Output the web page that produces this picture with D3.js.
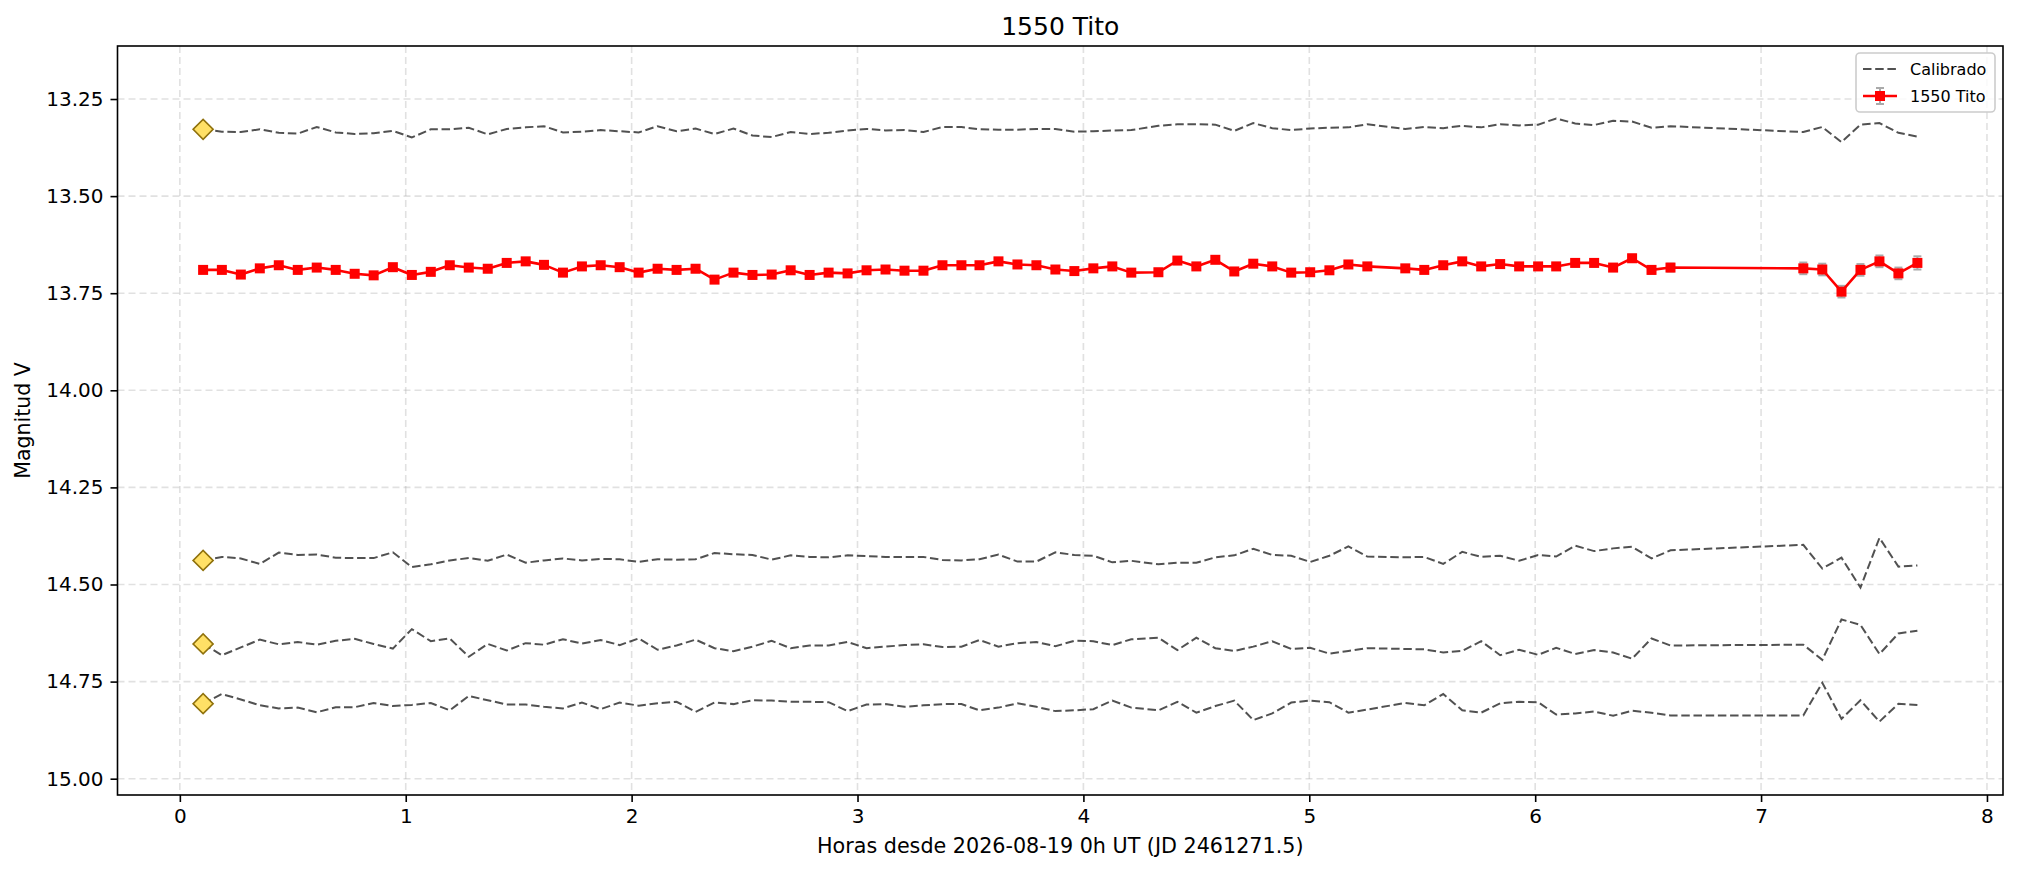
<!DOCTYPE html>
<html>
<head>
<meta charset="utf-8">
<script src="https://cdn.jsdelivr.net/npm/d3@7"></script>
<style>
  html, body { margin: 0; padding: 0; background: #fff; }
  svg { display: block; font-family: "DejaVu Sans", sans-serif; }
</style>
</head>
<body>
<svg id="chart" width="2018" height="873"></svg>
<script>
// ---------------- DATA ----------------
const title = "1550 Tito";
const xLabel = "Horas desde 2026-08-19 0h UT (JD 2461271.5)";
const yLabel = "Magnitud V";
const xTicks = [0, 1, 2, 3, 4, 5, 6, 7, 8];
const yTicks = [13.25, 13.50, 13.75, 14.00, 14.25, 14.50, 14.75, 15.00];
const legendLabels = ["Calibrado", "1550 Tito"];

const hours = [
  0.103, 0.186, 0.270, 0.354, 0.438, 0.522, 0.606, 0.690, 0.774, 0.858,
  0.943, 1.027, 1.111, 1.195, 1.279, 1.363, 1.447, 1.531, 1.612, 1.696,
  1.780, 1.863, 1.947, 2.031, 2.115, 2.199, 2.283, 2.367, 2.451, 2.535,
  2.620, 2.704, 2.788, 2.872, 2.956, 3.040, 3.124, 3.208, 3.292, 3.376,
  3.460, 3.540, 3.624, 3.708, 3.792, 3.876, 3.960, 4.044, 4.128, 4.212,
  4.332, 4.416, 4.500, 4.584, 4.668, 4.752, 4.836, 4.920, 5.004, 5.089,
  5.173, 5.257, 5.425, 5.509, 5.593, 5.677, 5.761, 5.845, 5.929, 6.013,
  6.093, 6.177, 6.261, 6.345, 6.429, 6.515, 6.599, 7.187, 7.271, 7.356,
  7.440, 7.524, 7.608, 7.692
];

const titoMag = [
  13.690, 13.690, 13.702, 13.686, 13.678, 13.690, 13.684, 13.690, 13.700, 13.704,
  13.683, 13.703, 13.695, 13.678, 13.684, 13.687, 13.672, 13.668, 13.677, 13.697,
  13.681, 13.678, 13.683, 13.697, 13.687, 13.690, 13.687, 13.715, 13.697, 13.703,
  13.702, 13.691, 13.703, 13.697, 13.699, 13.691, 13.689, 13.692, 13.692, 13.678,
  13.678, 13.678, 13.668, 13.676, 13.678, 13.689, 13.693, 13.686, 13.681, 13.697,
  13.696, 13.666, 13.681, 13.664, 13.694, 13.674, 13.681, 13.697, 13.696, 13.691,
  13.676, 13.681, 13.686, 13.690, 13.678, 13.668, 13.681, 13.675, 13.681, 13.681,
  13.681, 13.672, 13.672, 13.684, 13.660, 13.690, 13.684, 13.686, 13.689, 13.746,
  13.690, 13.668, 13.699, 13.672
];

const titoErr = [
  0.008, 0.008, 0.008, 0.008, 0.008, 0.008, 0.008, 0.008, 0.008, 0.008,
  0.008, 0.008, 0.008, 0.008, 0.008, 0.008, 0.008, 0.008, 0.008, 0.008,
  0.008, 0.008, 0.008, 0.008, 0.008, 0.008, 0.008, 0.008, 0.008, 0.008,
  0.008, 0.008, 0.008, 0.008, 0.008, 0.008, 0.008, 0.008, 0.008, 0.008,
  0.008, 0.008, 0.008, 0.008, 0.008, 0.008, 0.008, 0.008, 0.008, 0.008,
  0.008, 0.008, 0.008, 0.008, 0.008, 0.008, 0.008, 0.008, 0.008, 0.008,
  0.008, 0.008, 0.008, 0.008, 0.008, 0.008, 0.008, 0.008, 0.008, 0.008,
  0.009, 0.009, 0.009, 0.009, 0.009, 0.010, 0.010, 0.015, 0.015, 0.015,
  0.015, 0.015, 0.015, 0.017
];

const calib1 = [
  13.328, 13.334, 13.335, 13.328, 13.337, 13.339, 13.322, 13.336, 13.340, 13.338,
  13.332, 13.349, 13.328, 13.328, 13.324, 13.341, 13.327, 13.323, 13.320, 13.336,
  13.334, 13.330, 13.333, 13.336, 13.320, 13.333, 13.326, 13.340, 13.326, 13.344,
  13.348, 13.335, 13.340, 13.337, 13.331, 13.327, 13.331, 13.330, 13.335, 13.322,
  13.322, 13.328, 13.329, 13.329, 13.327, 13.327, 13.334, 13.333, 13.331, 13.330,
  13.319, 13.315, 13.315, 13.316, 13.332, 13.312, 13.325, 13.330, 13.326, 13.324,
  13.323, 13.315, 13.327, 13.322, 13.325, 13.319, 13.323, 13.315, 13.318, 13.316,
  13.300, 13.313, 13.317, 13.306, 13.308, 13.324, 13.320, 13.335, 13.322, 13.361,
  13.316, 13.312, 13.337, 13.347
];

const calib2 = [
  14.438, 14.429, 14.433, 14.447, 14.418, 14.424, 14.423, 14.431, 14.432, 14.432,
  14.417, 14.455, 14.448, 14.438, 14.432, 14.439, 14.423, 14.444, 14.438, 14.433,
  14.438, 14.434, 14.435, 14.442, 14.435, 14.436, 14.435, 14.419, 14.422, 14.424,
  14.436, 14.425, 14.429, 14.430, 14.425, 14.427, 14.429, 14.429, 14.429, 14.437,
  14.438, 14.435, 14.423, 14.441, 14.441, 14.417, 14.424, 14.426, 14.443, 14.439,
  14.448, 14.444, 14.444, 14.430, 14.425, 14.408, 14.424, 14.426, 14.442, 14.426,
  14.402, 14.428, 14.430, 14.429, 14.447, 14.416, 14.429, 14.426, 14.439, 14.424,
  14.428, 14.400, 14.414, 14.407, 14.403, 14.433, 14.412, 14.398, 14.459, 14.431,
  14.508, 14.380, 14.454, 14.451
];

const calib3 = [
  14.653, 14.682, 14.662, 14.642, 14.654, 14.648, 14.655, 14.645, 14.640, 14.653,
  14.665, 14.615, 14.646, 14.639, 14.686, 14.653, 14.670, 14.651, 14.655, 14.641,
  14.652, 14.643, 14.656, 14.639, 14.668, 14.657, 14.642, 14.664, 14.672, 14.660,
  14.645, 14.664, 14.657, 14.657, 14.648, 14.664, 14.660, 14.656, 14.654, 14.661,
  14.660, 14.643, 14.660, 14.651, 14.648, 14.659, 14.645, 14.646, 14.656, 14.641,
  14.637, 14.669, 14.637, 14.664, 14.671, 14.660, 14.646, 14.666, 14.663, 14.678,
  14.671, 14.664, 14.666, 14.667, 14.675, 14.671, 14.646, 14.682, 14.668, 14.681,
  14.663, 14.679, 14.669, 14.675, 14.691, 14.639, 14.657, 14.655, 14.694, 14.590,
  14.604, 14.679, 14.626, 14.619
];

const calib4 = [
  14.807, 14.782, 14.796, 14.811, 14.819, 14.817, 14.829, 14.816, 14.816, 14.805,
  14.813, 14.810, 14.805, 14.824, 14.787, 14.798, 14.809, 14.809, 14.815, 14.819,
  14.804, 14.821, 14.804, 14.812, 14.806, 14.802, 14.828, 14.804, 14.808, 14.798,
  14.799, 14.802, 14.802, 14.803, 14.826, 14.809, 14.808, 14.815, 14.811, 14.808,
  14.808, 14.824, 14.817, 14.806, 14.815, 14.826, 14.824, 14.821, 14.799, 14.817,
  14.824, 14.802, 14.830, 14.813, 14.799, 14.849, 14.832, 14.804, 14.799, 14.803,
  14.830, 14.822, 14.805, 14.811, 14.782, 14.824, 14.830, 14.806, 14.802, 14.803,
  14.835, 14.832, 14.827, 14.838, 14.825, 14.830, 14.837, 14.837, 14.753, 14.846,
  14.798, 14.853, 14.807, 14.810
];

const calibSeries = [calib1, calib2, calib3, calib4];

// ---------------- LAYOUT ----------------
const W = 2018, H = 873;
const plot = { left: 117.5, right: 2003, top: 46, bottom: 795 };
const xDomain = [-0.276, 8.071];
const yDomain = [13.1135, 15.042];

const svg = d3.select("#chart");
const x = d3.scaleLinear().domain(xDomain).range([plot.left, plot.right]);
const y = d3.scaleLinear().domain(yDomain).range([plot.top, plot.bottom]);

svg.append("rect").attr("width", W).attr("height", H).attr("fill", "#fff");

const clipId = "plotclip";
svg.append("clipPath").attr("id", clipId)
  .append("rect")
  .attr("x", plot.left).attr("y", plot.top)
  .attr("width", plot.right - plot.left).attr("height", plot.bottom - plot.top);

// grid
const grid = svg.append("g");
grid.selectAll("line.gx").data(xTicks).join("line")
  .attr("x1", d => x(d)).attr("x2", d => x(d))
  .attr("y1", plot.top).attr("y2", plot.bottom)
  .attr("stroke", "#b0b0b0").attr("stroke-opacity", 0.38)
  .attr("stroke-width", 1.6).attr("stroke-dasharray", "7,4");
grid.selectAll("line.gy").data(yTicks).join("line")
  .attr("x1", plot.left).attr("x2", plot.right)
  .attr("y1", d => y(d)).attr("y2", d => y(d))
  .attr("stroke", "#b0b0b0").attr("stroke-opacity", 0.38)
  .attr("stroke-width", 1.6).attr("stroke-dasharray", "7,4");

const body = svg.append("g").attr("clip-path", `url(#${clipId})`);

// calibrated comparison lines
const line = d3.line().x(d => x(d[0])).y(d => y(d[1]));
calibSeries.forEach(series => {
  const pts = hours.map((h, i) => [h, series[i]]);
  body.append("path")
    .attr("d", line(pts))
    .attr("fill", "none")
    .attr("stroke", "#333")
    .attr("stroke-opacity", 0.85)
    .attr("stroke-width", 2)
    .attr("stroke-dasharray", "8.5,3.7");
});

// diamonds at first point of each comparison
const diamond = d3.symbol().type(d3.symbolSquare).size(200);
calibSeries.forEach(series => {
  body.append("path")
    .attr("d", diamond())
    .attr("transform", `translate(${x(hours[0])},${y(series[0])}) rotate(45)`)
    .attr("fill", "#ffe066")
    .attr("stroke", "#8f710c")
    .attr("stroke-width", 1.6);
});

// target error bars
const tito = hours.map((h, i) => ({ h, m: titoMag[i], e: titoErr[i] }));
const eb = body.append("g");
eb.selectAll("line.eb").data(tito).join("line")
  .attr("x1", d => x(d.h)).attr("x2", d => x(d.h))
  .attr("y1", d => y(d.m - d.e)).attr("y2", d => y(d.m + d.e))
  .attr("stroke", "#aaaaaa").attr("stroke-width", 2);
eb.selectAll("line.cap1").data(tito).join("line")
  .attr("x1", d => x(d.h) - 4).attr("x2", d => x(d.h) + 4)
  .attr("y1", d => y(d.m - d.e)).attr("y2", d => y(d.m - d.e))
  .attr("stroke", "#aaaaaa").attr("stroke-width", 2);
eb.selectAll("line.cap2").data(tito).join("line")
  .attr("x1", d => x(d.h) - 4).attr("x2", d => x(d.h) + 4)
  .attr("y1", d => y(d.m + d.e)).attr("y2", d => y(d.m + d.e))
  .attr("stroke", "#aaaaaa").attr("stroke-width", 2);

// target line + markers
body.append("path")
  .attr("d", line(tito.map(d => [d.h, d.m])))
  .attr("fill", "none").attr("stroke", "#ff0000").attr("stroke-width", 2.6)
  .attr("stroke-linejoin", "round");
body.selectAll("rect.mk").data(tito).join("rect")
  .attr("x", d => x(d.h) - 5).attr("y", d => y(d.m) - 5)
  .attr("width", 10).attr("height", 10)
  .attr("fill", "#ff0000");

// axes
const xAxis = d3.axisBottom(x).tickValues(xTicks).tickFormat(d3.format("d"))
  .tickSize(7).tickPadding(7);
const yAxis = d3.axisLeft(y).tickValues(yTicks).tickFormat(d3.format(".2f"))
  .tickSize(7).tickPadding(7);

const gx = svg.append("g").attr("transform", `translate(0,${plot.bottom})`).call(xAxis);
const gy = svg.append("g").attr("transform", `translate(${plot.left},0)`).call(yAxis);
[gx, gy].forEach(g => {
  g.select(".domain").remove();
  g.selectAll(".tick line").attr("stroke", "#000").attr("stroke-width", 1.6);
  g.selectAll(".tick text").attr("fill", "#000")
    .style("font-family", "DejaVu Sans").style("font-size", "20px");
});

// frame
svg.append("rect")
  .attr("x", plot.left).attr("y", plot.top)
  .attr("width", plot.right - plot.left).attr("height", plot.bottom - plot.top)
  .attr("fill", "none").attr("stroke", "#000").attr("stroke-width", 1.6);

// labels
svg.append("text")
  .attr("x", (plot.left + plot.right) / 2).attr("y", 35)
  .attr("text-anchor", "middle").style("font-size", "25px").attr("fill", "#000")
  .text(title);
svg.append("text")
  .attr("x", (plot.left + plot.right) / 2).attr("y", 853)
  .attr("text-anchor", "middle").style("font-size", "20.7px").attr("fill", "#000")
  .text(xLabel);
svg.append("text")
  .attr("transform", `translate(30,${(plot.top + plot.bottom) / 2}) rotate(-90)`)
  .attr("text-anchor", "middle").style("font-size", "20.5px").attr("fill", "#000")
  .text(yLabel);

// legend
const lg = svg.append("g");
lg.append("rect")
  .attr("x", 1856).attr("y", 53).attr("width", 139).attr("height", 59).attr("rx", 4)
  .attr("fill", "#fff").attr("fill-opacity", 0.8)
  .attr("stroke", "#cccccc").attr("stroke-width", 1.6);
lg.append("line")
  .attr("x1", 1863).attr("x2", 1897).attr("y1", 69).attr("y2", 69)
  .attr("stroke", "#333").attr("stroke-opacity", 0.85).attr("stroke-width", 2)
  .attr("stroke-dasharray", "8.5,3.7");
lg.append("text").attr("x", 1910).attr("y", 75)
  .style("font-size", "16px").attr("fill", "#000").text(legendLabels[0]);
// errorbar glyph
lg.append("line").attr("x1", 1880).attr("x2", 1880).attr("y1", 88).attr("y2", 104)
  .attr("stroke", "#aaaaaa").attr("stroke-width", 2);
lg.append("line").attr("x1", 1876).attr("x2", 1884).attr("y1", 88).attr("y2", 88)
  .attr("stroke", "#aaaaaa").attr("stroke-width", 2);
lg.append("line").attr("x1", 1876).attr("x2", 1884).attr("y1", 104).attr("y2", 104)
  .attr("stroke", "#aaaaaa").attr("stroke-width", 2);
lg.append("line")
  .attr("x1", 1863).attr("x2", 1897).attr("y1", 96).attr("y2", 96)
  .attr("stroke", "#ff0000").attr("stroke-width", 2.6);
lg.append("rect").attr("x", 1875).attr("y", 91).attr("width", 10).attr("height", 10)
  .attr("fill", "#ff0000");
lg.append("text").attr("x", 1910).attr("y", 102)
  .style("font-size", "16px").attr("fill", "#000").text(legendLabels[1]);
</script>
</body>
</html>
